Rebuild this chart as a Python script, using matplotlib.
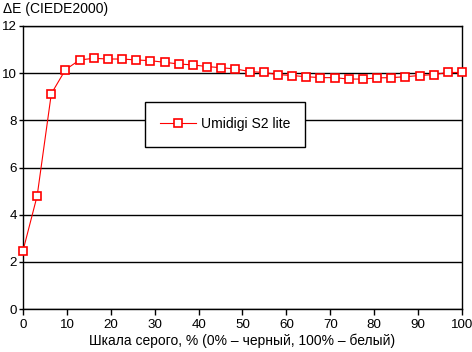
import matplotlib
matplotlib.use("Agg")
from matplotlib import pyplot as plt
import numpy as np

plt.rcParams['font.family'] = ['Liberation Sans', 'DejaVu Sans']

# grey level steps, %  (32 steps from 0 to 100)
grey = np.linspace(0, 100, 32)
delta_e = [2.47, 4.80, 9.13, 10.15, 10.56, 10.63, 10.60, 10.60, 10.56, 10.53,
           10.46, 10.39, 10.35, 10.28, 10.23, 10.18, 10.07, 10.03, 9.94, 9.90,
           9.85, 9.81, 9.81, 9.75, 9.75, 9.80, 9.81, 9.85, 9.90, 9.94,
           10.03, 10.03]
series_name = "Umidigi S2 lite"
x_ticks = list(range(0, 101, 10))
y_ticks = list(range(0, 13, 2))

fig = plt.figure(figsize=(4.72, 3.52), dpi=100)
ax = fig.add_axes([23/472, 1 - 309/352, 439/472, 283/352])

ax.set_xlim(0, 100)
ax.set_ylim(0, 12)
ax.set_xticks(x_ticks)
ax.set_yticks(y_ticks)
ax.yaxis.grid(True, color='black', linewidth=1)
ax.set_axisbelow(True)
for s in ax.spines.values():
    s.set_color('black')
    s.set_linewidth(1)
ax.tick_params(direction='out', length=4, width=1, labelsize=9.6, colors='black', pad=3)
ax.tick_params(axis='y', length=3, pad=1.5)

ax.plot(grey, delta_e, color='red', linewidth=0.8, marker='s', markersize=6,
        markerfacecolor='white', markeredgecolor='red', markeredgewidth=1.2,
        label=series_name, clip_on=False, zorder=3)

leg = ax.legend(loc='upper left', bbox_to_anchor=((145 - 23)/439, (309 - 102)/283),
                frameon=True, fancybox=False, shadow=False, fontsize=10,
                borderpad=1.1, handlelength=2.6, handletextpad=0.3, borderaxespad=0)
leg.get_frame().set_edgecolor('black')
leg.get_frame().set_linewidth(1)
leg.get_frame().set_facecolor('white')
leg.get_frame().set_alpha(1)

ax.set_xlabel("Шкала серого, % (0% – черный, 100% – белый)", fontsize=10, labelpad=2)
fig.text(3/472, 1 - 9/352, "ΔE (CIEDE2000)", fontsize=10, va='center', ha='left')

fig.savefig("out.png", dpi=100)
